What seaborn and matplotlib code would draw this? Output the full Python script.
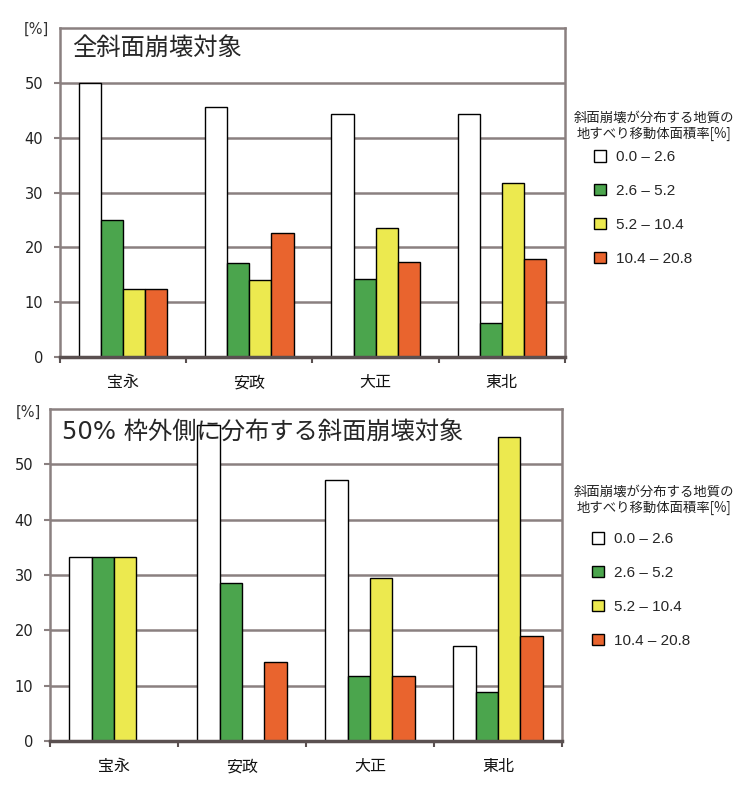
"""Landslide distribution by landslide-body area ratio, four earthquakes."""
import matplotlib
matplotlib.use("Agg")

import matplotlib.pyplot as plt
import pandas as pd
import seaborn as sns
from matplotlib.patches import Patch

periods = ["宝永", "安政", "大正", "東北"]
classes = ["0.0 – 2.6", "2.6 – 5.2", "5.2 – 10.4", "10.4 – 20.8"]
colors = ["#ffffff", "#4ba54d", "#ece94f", "#e9642e"]

# top: all slope failures
all_c1 = [50.0, 45.6, 44.3, 44.3]
all_c2 = [25.0, 17.2, 14.3, 6.2]
all_c3 = [12.4, 14.1, 23.6, 31.7]
all_c4 = [12.4, 22.7, 17.4, 17.9]

# bottom: slope failures outside the 50% frame
out_c1 = [33.3, 57.1, 47.1, 17.2]
out_c2 = [33.3, 28.6, 11.8, 8.9]
out_c3 = [33.3, 0.0, 29.4, 54.9]
out_c4 = [0.0, 14.3, 11.8, 18.9]

title_top = "全斜面崩壊対象"
title_bot = "50% 枠外側に分布する斜面崩壊対象"
legend_title = "斜面崩壊が分布する地質の\n地すべり移動体面積率[%]"

GRID_C = "#8a8080"
AXIS_C = "#5a5050"


def to_frame(series):
    rows = []
    for cls, vals in zip(classes, series):
        for p, v in zip(periods, vals):
            rows.append({"period": p, "class": cls, "value": v})
    return pd.DataFrame(rows)


def draw(ax, df, title, title_xy, pct_xy, ltitle_xy, legend_anchor):
    palette = dict(zip(classes, colors))
    sns.barplot(data=df, x="period", y="value", hue="class", order=periods,
                hue_order=classes, palette=palette, saturation=1, width=0.7,
                gap=0, edgecolor="black", linewidth=1.0, legend=False, ax=ax,
                zorder=3)
    ax.set_xlim(-0.5, 3.5)
    ax.set_ylim(0, 60)
    ax.set_yticks(range(0, 60, 10))
    ax.set_xlabel("")
    ax.set_ylabel("")
    ax.set_axisbelow(True)
    ax.yaxis.grid(True, color=GRID_C, lw=1.8)
    ax.xaxis.grid(False)
    for side in ["left", "top", "right"]:
        ax.spines[side].set_color(GRID_C)
        ax.spines[side].set_linewidth(1.8)
    ax.spines["bottom"].set_color(AXIS_C)
    ax.spines["bottom"].set_linewidth(2.5)
    ax.spines["bottom"].set_zorder(4)

    ax.tick_params(axis="y", left=True, length=4, width=1.5, color=GRID_C,
                   direction="out", pad=8, labelsize=10.5, labelcolor="#222222")
    ax.tick_params(axis="x", which="major", length=0, pad=13, labelsize=11.5,
                   labelcolor="#111111")
    ax.set_xticks([-0.5, 0.5, 1.5, 2.5, 3.5], minor=True)
    ax.tick_params(axis="x", which="minor", bottom=True, length=4, width=1.5,
                   color=AXIS_C, direction="out")

    ax.text(title_xy[0], title_xy[1], title, transform=ax.transAxes,
            fontsize=17.5, ha="left", va="center", zorder=6)
    ax.text(pct_xy[0], pct_xy[1], "[%]", transform=ax.transAxes,
            fontsize=10.5, ha="center", va="center", color="#333333")

    # legend heading drawn on its own so the gap to the entries matches
    ax.text(ltitle_xy[0], ltitle_xy[1], legend_title, transform=ax.transAxes,
            family="Noto Sans CJK JP", fontsize=9.6, ha="center", va="center",
            multialignment="center", linespacing=1.15, color="#222222")

    handles = [Patch(facecolor=c, edgecolor="black", lw=1.0) for c in colors]
    ax.legend(handles, classes, loc="center left",
              bbox_to_anchor=legend_anchor, frameon=False, borderpad=0,
              handlelength=0.78, handleheight=0.78, handletextpad=0.65,
              labelspacing=1.3,
              prop={"family": "Liberation Sans", "size": 11})


sns.set_theme(style="white")
plt.rcParams["font.family"] = ["DejaVu Sans", "Noto Sans CJK JP"]

fig = plt.figure(figsize=(7.5, 7.89), dpi=100)
ax_top = fig.add_axes([0.08, 0.5475, 0.6733, 0.417])
ax_bot = fig.add_axes([0.0667, 0.0608, 0.6827, 0.4208])

draw(ax_top, to_frame([all_c1, all_c2, all_c3, all_c4]), title_top,
     (0.024, 0.936), (-0.046, 0.997), (1.176, 0.702), (1.043, 0.453))
draw(ax_bot, to_frame([out_c1, out_c2, out_c3, out_c4]), title_bot,
     (0.023, 0.928), (-0.043, 0.991), (1.180, 0.726), (1.043, 0.455))

fig.savefig("out.png", dpi=100)
plt.close(fig)
